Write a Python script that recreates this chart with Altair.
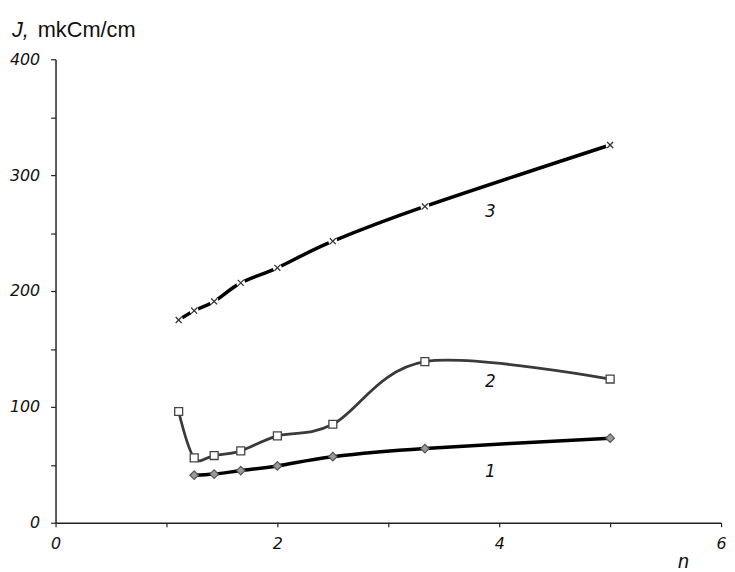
import altair as alt
import pandas as pd

# ---- data ----
n_vals = [1.11, 1.25, 1.43, 1.67, 2.0, 2.5, 3.33, 5.0]
J_curve3 = [175, 183, 191, 207, 220, 243, 273, 326]
J_curve2 = [96, 56, 58, 62, 75, 85, 139, 124]
n_curve1 = [1.25, 1.43, 1.67, 2.0, 2.5, 3.33, 5.0]
J_curve1 = [41, 42, 45, 49, 57, 64, 73]

label_text = ["1", "2", "3"]
label_n = [3.92, 3.92, 3.92]
label_J = [44, 121, 268]

d3 = pd.DataFrame({"n": n_vals, "J": J_curve3})
d2 = pd.DataFrame({"n": n_vals, "J": J_curve2})
d1 = pd.DataFrame({"n": n_curve1, "J": J_curve1})
dl = pd.DataFrame({"n": label_n, "J": label_J, "t": label_text})

FONT = "Liberation Sans"
TFONT = "DejaVu Sans"

xs = alt.Scale(domain=[0, 6], nice=False, zero=False)
ys = alt.Scale(domain=[0, 400], nice=False)

xax = alt.Axis(
    values=[0, 1, 2, 3, 4, 5, 6], format="d",
    labelExpr="datum.value % 2 == 0 ? datum.label : ''",
    title=None, grid=False, domainColor="#222", domainWidth=1.5,
    tickColor="#222", tickWidth=1.2, tickSize=4, labelPadding=9,
    labelFont=TFONT, labelFontSize=16, labelFontStyle="italic",
    labelColor="#111", labelFlush=False,
)
yax = alt.Axis(
    values=[0, 50, 100, 150, 200, 250, 300, 350, 400], format="d",
    labelExpr="datum.value % 100 == 0 ? datum.label : ''",
    title=None, grid=False, domainColor="#222", domainWidth=1.5,
    tickColor="#222", tickWidth=1.2, tickSize=5, labelPadding=11,
    labelFont=TFONT, labelFontSize=16, labelFontStyle="italic",
    labelColor="#111", labelFlush=False,
)

X = alt.X("n:Q", scale=xs, axis=xax)
Y = alt.Y("J:Q", scale=ys, axis=yax)
Xn = alt.X("n:Q", scale=xs)
Yn = alt.Y("J:Q", scale=ys)

line3 = alt.Chart(d3).mark_line(color="#000", strokeWidth=3.5, interpolate="cardinal").encode(x=X, y=Y)
halo3 = alt.Chart(d3).mark_point(shape="circle", filled=True, color="white", opacity=1, size=80).encode(x=Xn, y=Yn)
cross3 = alt.Chart(d3).mark_point(
    shape="M-1,-1L1,1M-1,1L1,-1", filled=False, color="#333", strokeWidth=1.3, size=36, opacity=1
).encode(x=Xn, y=Yn)

line2 = alt.Chart(d2).mark_line(color="#3a3a3a", strokeWidth=2.8, interpolate="cardinal").encode(x=Xn, y=Yn)
sq2 = alt.Chart(d2).mark_point(
    shape="square", filled=True, fill="white", stroke="#444", strokeWidth=1.3, size=64, opacity=1
).encode(x=Xn, y=Yn)

line1 = alt.Chart(d1).mark_line(color="#000", strokeWidth=3.5, interpolate="cardinal").encode(x=Xn, y=Yn)
dia1 = alt.Chart(d1).mark_point(
    shape="diamond", filled=True, fill="#9a9a9a", stroke="#555", strokeWidth=1.2, size=75, opacity=1
).encode(x=Xn, y=Yn)

labels = alt.Chart(dl).mark_text(
    font=TFONT, fontSize=17, fontStyle="italic", color="#111"
).encode(x=Xn, y=Yn, text="t:N")

title_j = alt.Chart(pd.DataFrame({"t": ["J,"]})).mark_text(
    font=FONT, fontSize=22, fontStyle="italic", align="left", baseline="alphabetic", color="#111"
).encode(x=alt.value(-44), y=alt.value(-22), text="t:N")
title_u = alt.Chart(pd.DataFrame({"t": ["mkCm/cm"]})).mark_text(
    font=FONT, fontSize=22, align="left", baseline="alphabetic", color="#111"
).encode(x=alt.value(-18), y=alt.value(-22), text="t:N")
n_lab = alt.Chart(pd.DataFrame({"t": ["n"]})).mark_text(
    font=FONT, fontSize=20, fontStyle="italic", align="center", baseline="alphabetic", color="#111"
).encode(x=alt.value(634), y=alt.value(514), text="t:N")

chart = alt.layer(
    line3, halo3, cross3, line2, sq2, line1, dia1, labels, title_j, title_u, n_lab
).properties(
    width=672, height=468,
    autosize=alt.AutoSizeParams(type="none"),
    padding={"left": 48, "top": 49, "right": 6, "bottom": 47},
    background="white",
).configure_view(stroke=None, strokeWidth=0)

chart.save("out.html", embed_options={"renderer": "svg", "actions": False})
